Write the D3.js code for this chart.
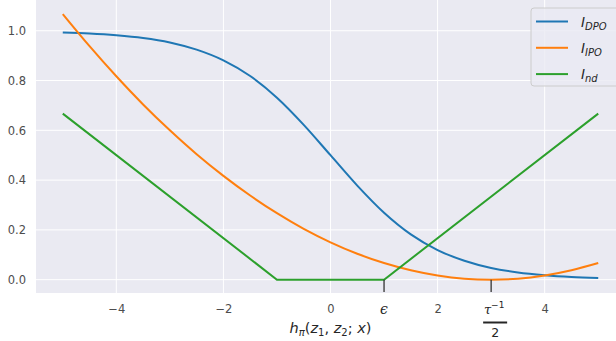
<!DOCTYPE html>
<html>
<head>
<meta charset="utf-8">
<script src="https://cdn.jsdelivr.net/npm/d3@7"></script>
<style>
  body { margin: 0; background: #fff; }
  svg { display: block; font-family: "DejaVu Sans", sans-serif; }
</style>
</head>
<body>
<div id="chart"></div>
<script>
// values
var hVals = [-5, -4.5, -4, -3.5, -3, -2.5, -2, -1.5, -1, -0.5, 0, 0.5, 1, 1.5, 2, 2.5, 3, 3.5, 4, 4.5, 5]
var dpoVals = [0.993, 0.989, 0.982, 0.971, 0.953, 0.924, 0.881, 0.818, 0.731, 0.622, 0.5, 0.378, 0.269, 0.182, 0.119, 0.076, 0.047, 0.029, 0.018, 0.011, 0.007]
var ipoVals = [1.067, 0.938, 0.817, 0.704, 0.6, 0.504, 0.417, 0.338, 0.267, 0.204, 0.15, 0.104, 0.067, 0.038, 0.017, 0.004, 0, 0.004, 0.017, 0.038, 0.067]
var ndX = [-5, -1, 1, 5]
var ndVals = [0.667, 0, 0, 0.667]
var xTicks = [-4, -2, 0, 2, 4]
var yTicks = [0, 0.2, 0.4, 0.6, 0.8, 1.0]
var epsX = 1
var tauX = 3

var w = 616, h = 341
var margin = { top: 0, right: -9, bottom: 48, left: 36 }

var svg = d3.select('#chart').append('svg')
  .attr('width', w).attr('height', h)

var x = d3.scaleLinear().domain([-5.5, 5.5]).range([margin.left, w - margin.right])
var y = d3.scaleLinear().domain([-0.0535, 1.1235]).range([h - margin.bottom, margin.top])

// axes background
svg.append('rect')
  .attr('x', x(-5.5)).attr('y', y(1.1235))
  .attr('width', x(5.5) - x(-5.5)).attr('height', y(-0.0535) - y(1.1235))
  .attr('fill', '#eaeaf2')

// grid
svg.selectAll('.gx').data(xTicks).enter().append('line')
  .attr('x1', d => x(d)).attr('x2', d => x(d))
  .attr('y1', y(1.1235)).attr('y2', y(-0.0535))
  .attr('stroke', '#fff').attr('stroke-width', 1)
svg.selectAll('.gy').data(yTicks).enter().append('line')
  .attr('y1', d => y(d)).attr('y2', d => y(d))
  .attr('x1', x(-5.5)).attr('x2', x(5.5))
  .attr('stroke', '#fff').attr('stroke-width', 1)

// tick labels through axes (no tick lines, no domain)
var xAxis = svg.append('g')
  .attr('transform', 'translate(0,' + y(-0.0535) + ')')
  .call(d3.axisBottom(x).tickValues(xTicks).tickSize(0).tickPadding(12)
    .tickFormat(d => d3.format('d')(d).replace('-', '\u2212')))
xAxis.select('.domain').remove()
xAxis.selectAll('text').attr('font-size', 11.5).attr('fill', '#4d4d4d')
  .attr('font-family', 'DejaVu Sans')

var yAxis = svg.append('g')
  .attr('transform', 'translate(' + x(-5.5) + ',0)')
  .call(d3.axisLeft(y).tickValues(yTicks).tickSize(0).tickPadding(10)
    .tickFormat(d3.format('.1f')))
yAxis.select('.domain').remove()
yAxis.selectAll('text').attr('font-size', 11.5).attr('fill', '#4d4d4d')
  .attr('font-family', 'DejaVu Sans')

// lines
var line = d3.line().x(d => x(d[0])).y(d => y(d[1]))
var smooth = d3.line().x(d => x(d[0])).y(d => y(d[1])).curve(d3.curveMonotoneX)

svg.append('path').datum(hVals.map((v, i) => [v, dpoVals[i]]))
  .attr('d', smooth).attr('fill', 'none').attr('stroke', '#1f77b4').attr('stroke-width', 2)
svg.append('path').datum(hVals.map((v, i) => [v, ipoVals[i]]))
  .attr('d', d3.line().x(d => x(d[0])).y(d => y(d[1])).curve(d3.curveCatmullRom))
  .attr('fill', 'none').attr('stroke', '#ff7f0e').attr('stroke-width', 2)
svg.append('path').datum(ndX.map((v, i) => [v, ndVals[i]]))
  .attr('d', line).attr('fill', 'none').attr('stroke', '#2ca02c').attr('stroke-width', 2)

// marker ticks for epsilon and tau^-1/2
svg.selectAll('.mk').data([epsX, tauX]).enter().append('line')
  .attr('x1', d => x(d)).attr('x2', d => x(d))
  .attr('y1', y(0)).attr('y2', y(-0.0535) - 1)
  .attr('stroke', '#333').attr('stroke-width', 1.3)

var baseY = y(-0.0535) + 20.5
svg.append('text').attr('x', x(epsX)).attr('y', baseY)
  .attr('text-anchor', 'middle').attr('font-size', 14).attr('font-style', 'italic')
  .attr('fill', '#262626').attr('font-family', 'DejaVu Serif').text('\u03F5')

var tau = svg.append('text').attr('x', x(tauX) + 3).attr('y', baseY)
  .attr('text-anchor', 'middle').attr('font-size', 13).attr('fill', '#262626')
  .attr('font-family', 'DejaVu Serif')
tau.append('tspan').attr('font-style', 'italic').text('\u03C4')
tau.append('tspan').attr('font-size', 9).attr('dy', -6).attr('font-family', 'DejaVu Sans').text('\u22121')
svg.append('line')
  .attr('x1', x(tauX) - 8).attr('x2', x(tauX) + 16)
  .attr('y1', baseY + 9).attr('y2', baseY + 9)
  .attr('stroke', '#262626').attr('stroke-width', 2)
svg.append('text').attr('x', x(tauX) + 4).attr('y', baseY + 23)
  .attr('text-anchor', 'middle').attr('font-size', 12.5).attr('fill', '#262626').text('2')

// x label
var xl = svg.append('text').attr('x', x(0)).attr('y', 333)
  .attr('text-anchor', 'middle').attr('font-size', 14.5).attr('fill', '#262626')
  .attr('font-family', 'DejaVu Sans')
xl.append('tspan').attr('font-style', 'oblique').text('h')
xl.append('tspan').attr('font-size', 10).attr('dy', 3).attr('font-style', 'oblique').text('\u03C0')
xl.append('tspan').attr('dy', -3).text('(')
xl.append('tspan').attr('font-style', 'oblique').text('z')
xl.append('tspan').attr('font-size', 10).attr('dy', 3).text('1')
xl.append('tspan').attr('dy', -3).text(', ')
xl.append('tspan').attr('font-style', 'oblique').text('z')
xl.append('tspan').attr('font-size', 10).attr('dy', 3).text('2')
xl.append('tspan').attr('dy', -3).text('; ')
xl.append('tspan').attr('font-style', 'oblique').text('x')
xl.append('tspan').text(')')

// legend
var legNames = ['DPO', 'IPO', 'nd']
var legColors = ['#1f77b4', '#ff7f0e', '#2ca02c']
var leg = svg.append('g').attr('transform', 'translate(531,8)')
leg.append('rect').attr('width', 100).attr('height', 78).attr('rx', 3)
  .attr('fill', '#eaeaf2').attr('fill-opacity', 0.8)
  .attr('stroke', '#cccccc').attr('stroke-width', 1)
legNames.forEach(function(n, i) {
  var ly = 13.5 + i * 26.3
  leg.append('line').attr('x1', 5).attr('x2', 37).attr('y1', ly).attr('y2', ly)
    .attr('stroke', legColors[i]).attr('stroke-width', 2)
  var t = leg.append('text').attr('x', 50).attr('y', ly + 5)
    .attr('font-size', 13.5).attr('fill', '#262626').attr('font-style', 'oblique')
  t.append('tspan').text('I')
  t.append('tspan').attr('font-size', 10).attr('dy', 3).text(n)
})
</script>
</body>
</html>
